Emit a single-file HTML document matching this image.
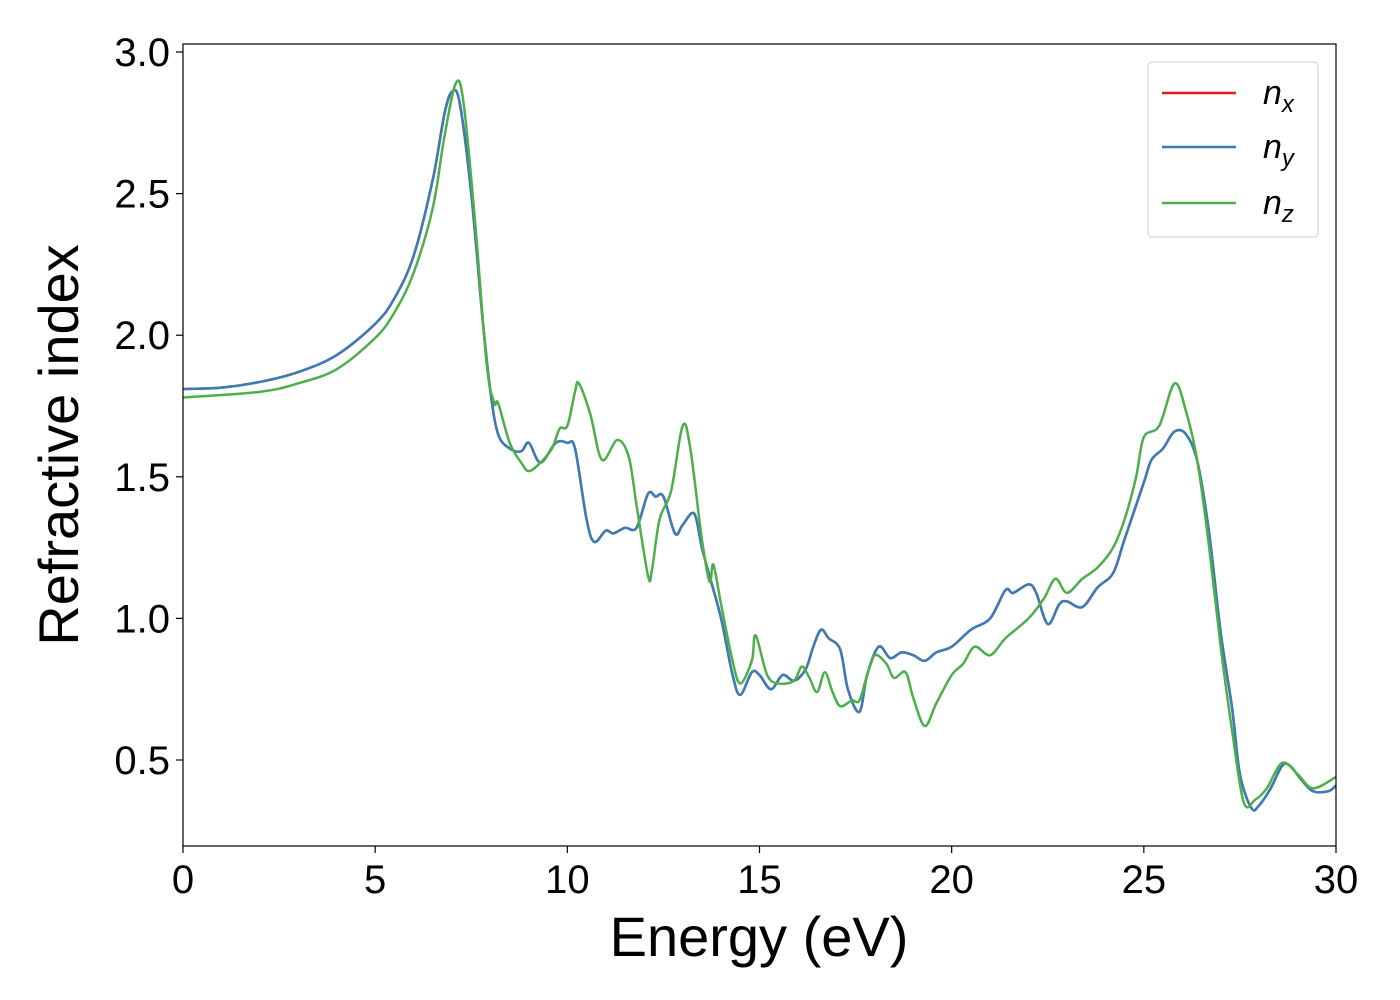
<!DOCTYPE html>
<html><head><meta charset="utf-8"><style>
html,body{margin:0;padding:0;background:#fff;}
svg{display:block;font-family:"Liberation Sans","DejaVu Sans",sans-serif;}
</style></head><body>
<svg id="chart" width="1400" height="1000" viewBox="0 0 1400 1000" xmlns="http://www.w3.org/2000/svg">
<rect x="0" y="0" width="1400" height="1000" fill="#fff"/>
<g id="series"></g>
<rect x="183" y="44" width="1153" height="802" fill="none" stroke="#000" stroke-width="1.2"/>
<g id="axes"></g>
<text x="759" y="956" font-size="56" text-anchor="middle">Energy (eV)</text>
<text transform="translate(78,445) rotate(-90)" font-size="56" text-anchor="middle">Refractive index</text>
<g>
<rect x="1148" y="62" width="170" height="175" rx="4" fill="#fff" stroke="#ccc" stroke-width="1"/>
<line x1="1162" y1="93" x2="1236" y2="93" stroke="#e41a1c" stroke-width="2.5"/>
<text x="1263" y="104" font-size="34" font-style="italic">n<tspan font-size="24" dy="8">x</tspan></text>
<line x1="1162" y1="147" x2="1236" y2="147" stroke="#377eb8" stroke-width="2.5"/>
<text x="1263" y="158" font-size="34" font-style="italic">n<tspan font-size="24" dy="8">y</tspan></text>
<line x1="1162" y1="203" x2="1236" y2="203" stroke="#4daf4a" stroke-width="2.5"/>
<text x="1263" y="214" font-size="34" font-style="italic">n<tspan font-size="24" dy="8">z</tspan></text>
</g>
</svg>
<script>
const xTicks=[0,5,10,15,20,25,30];
const yTicks=[0.5,1.0,1.5,2.0,2.5,3.0];
const blueE=[0,1,2,3,4,5,5.5,6,6.5,6.8,7.0,7.2,7.5,7.8,8.0,8.2,8.5,8.8,9.0,9.3,9.7,10.0,10.2,10.5,10.7,11.0,11.2,11.5,11.8,12.1,12.3,12.5,12.8,13.0,13.3,13.5,13.7,14.0,14.3,14.5,14.8,15.0,15.3,15.6,15.9,16.2,16.4,16.6,16.8,17.1,17.3,17.6,17.8,18.1,18.4,18.7,19.0,19.3,19.6,20.0,20.5,21.0,21.4,21.6,22.0,22.2,22.5,22.8,23.0,23.4,23.8,24.2,24.5,25.0,25.2,25.5,25.8,26.1,26.4,26.7,27.0,27.3,27.5,27.8,28.0,28.3,28.6,28.8,29.1,29.4,29.8,30];
const blueN=[1.81,1.815,1.835,1.87,1.93,2.04,2.13,2.28,2.55,2.78,2.86,2.82,2.5,2.05,1.8,1.65,1.6,1.59,1.62,1.55,1.62,1.62,1.6,1.35,1.27,1.31,1.30,1.32,1.32,1.44,1.43,1.43,1.30,1.33,1.37,1.25,1.15,1.0,0.80,0.73,0.81,0.80,0.75,0.80,0.78,0.82,0.90,0.96,0.93,0.89,0.75,0.67,0.80,0.90,0.86,0.88,0.87,0.85,0.88,0.90,0.96,1.0,1.1,1.09,1.12,1.09,0.98,1.05,1.06,1.04,1.11,1.16,1.28,1.48,1.56,1.60,1.66,1.65,1.55,1.3,0.95,0.68,0.45,0.33,0.34,0.40,0.48,0.48,0.43,0.39,0.39,0.41];
const greenE=[0,2,3,4,5,5.5,6,6.5,6.8,7.1,7.3,7.6,7.9,8.1,8.2,8.5,8.8,9.0,9.3,9.6,9.8,10.0,10.2,10.3,10.6,10.9,11.3,11.6,11.8,12.1,12.2,12.4,12.7,13.0,13.2,13.5,13.7,13.8,14.0,14.3,14.5,14.8,14.9,15.2,15.5,15.9,16.1,16.3,16.5,16.7,16.9,17.1,17.4,17.6,17.8,18.0,18.3,18.5,18.8,19.0,19.3,19.6,20.0,20.3,20.6,21.0,21.4,22.0,22.4,22.7,23.0,23.4,23.8,24.2,24.5,24.8,25.0,25.4,25.8,26.1,26.4,26.7,27.0,27.3,27.6,27.9,28.2,28.6,29.0,29.4,30];
const greenN=[1.78,1.80,1.83,1.88,1.99,2.08,2.22,2.45,2.70,2.89,2.82,2.4,1.9,1.76,1.76,1.62,1.55,1.52,1.55,1.60,1.67,1.68,1.8,1.83,1.72,1.56,1.63,1.57,1.40,1.15,1.17,1.35,1.45,1.68,1.60,1.28,1.13,1.19,1.05,0.85,0.77,0.85,0.94,0.80,0.77,0.78,0.83,0.79,0.74,0.81,0.74,0.69,0.71,0.71,0.80,0.87,0.84,0.79,0.81,0.72,0.62,0.70,0.80,0.84,0.90,0.87,0.93,1.0,1.07,1.14,1.09,1.14,1.18,1.25,1.35,1.50,1.64,1.68,1.83,1.73,1.55,1.25,0.9,0.6,0.35,0.36,0.40,0.49,0.45,0.40,0.44];
const NS="http://www.w3.org/2000/svg";
function xs(v){return 183+v*(1153/30);}
function ys(v){return 760-(v-0.5)*283.2;}
function pathD(E,N){
  const p=E.map((e,i)=>[xs(e),ys(N[i])]);
  let d="M"+p[0][0]+","+p[0][1];
  for(let i=0;i<p.length-1;i++){
    const p0=p[Math.max(0,i-1)],p1=p[i],p2=p[i+1],p3=p[Math.min(p.length-1,i+2)];
    const c1=[p1[0]+(p2[0]-p0[0])/6,p1[1]+(p2[1]-p0[1])/6];
    const c2=[p2[0]-(p3[0]-p1[0])/6,p2[1]-(p3[1]-p1[1])/6];
    d+=" C"+c1[0]+","+c1[1]+" "+c2[0]+","+c2[1]+" "+p2[0]+","+p2[1];
  }
  return d;
}
const sg=document.getElementById("series");
const defs=document.createElementNS(NS,"clipPath");
defs.setAttribute("id","clip");
const cr=document.createElementNS(NS,"rect");
cr.setAttribute("x",183);cr.setAttribute("y",44);cr.setAttribute("width",1153);cr.setAttribute("height",802);
defs.appendChild(cr);sg.appendChild(defs);
sg.setAttribute("clip-path","url(#clip)");
function addLine(E,N,color,name){
  const p=document.createElementNS(NS,"path");
  p.setAttribute("d",pathD(E,N));
  p.setAttribute("fill","none");p.setAttribute("stroke",color);p.setAttribute("stroke-width","2.5");
  
  
  sg.appendChild(p);
}
addLine(blueE,blueN,"#e41a1c","series-nx");
addLine(blueE,blueN,"#377eb8","series-ny");
addLine(greenE,greenN,"#4daf4a","series-nz");
const ax=document.getElementById("axes");
xTicks.forEach(t=>{
  const l=document.createElementNS(NS,"line");
  l.setAttribute("x1",xs(t));l.setAttribute("x2",xs(t));l.setAttribute("y1",846);l.setAttribute("y2",853);
  l.setAttribute("stroke","#000");l.setAttribute("stroke-width","1.2");
  
  
  ax.appendChild(l);
  const tx=document.createElementNS(NS,"text");
  tx.setAttribute("x",xs(t));tx.setAttribute("y",893);tx.setAttribute("font-size","40");tx.setAttribute("text-anchor","middle");
  tx.textContent=String(t);
  
  
  ax.appendChild(tx);
});
yTicks.forEach(t=>{
  const l=document.createElementNS(NS,"line");
  l.setAttribute("x1",176);l.setAttribute("x2",183);l.setAttribute("y1",ys(t));l.setAttribute("y2",ys(t));
  l.setAttribute("stroke","#000");l.setAttribute("stroke-width","1.2");
  
  
  ax.appendChild(l);
  const tx=document.createElementNS(NS,"text");
  tx.setAttribute("x",170);tx.setAttribute("y",ys(t)+14);tx.setAttribute("font-size","40");tx.setAttribute("text-anchor","end");
  tx.textContent=t.toFixed(1);
  
  
  ax.appendChild(tx);
});
</script>
</body></html>
